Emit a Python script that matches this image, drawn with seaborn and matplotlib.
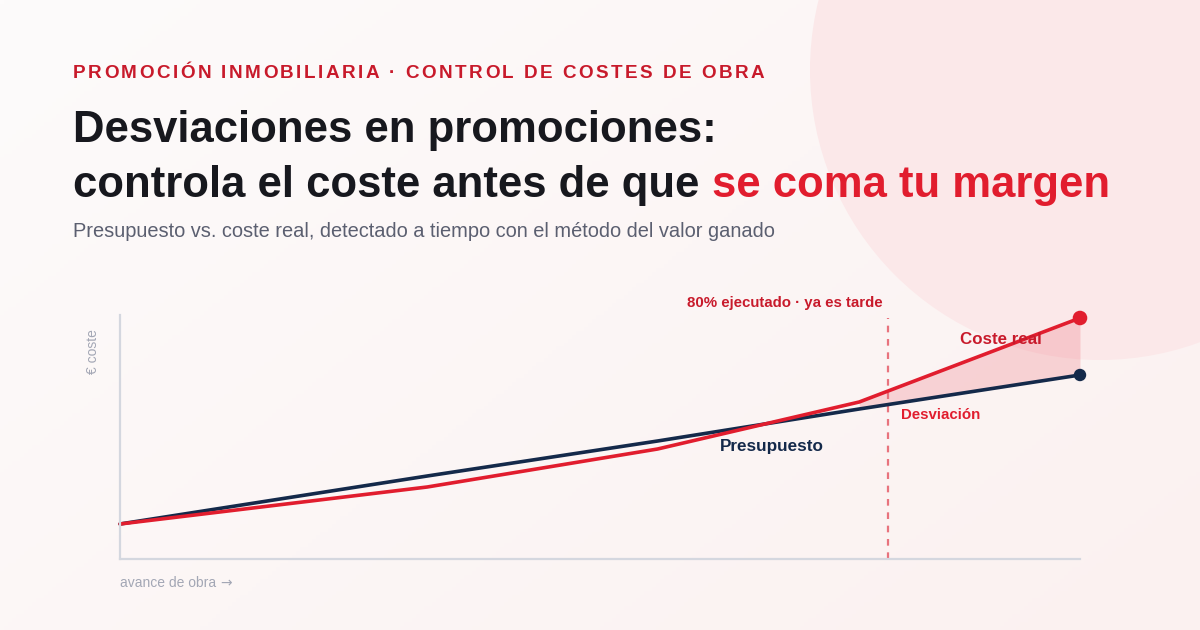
import numpy as np
import pandas as pd
import matplotlib
matplotlib.use("Agg")
import matplotlib.pyplot as plt
import seaborn as sns
from matplotlib.patches import Circle

# ---------------- data ----------------
avance = [0, 32, 56, 77, 100]                 # % de avance de obra
presupuesto = [35, 83, 118, 150, 184]          # coste presupuestado (índice)
coste_real = [35, 72, 110, 157, 241]           # coste real (índice)
hito_avance = 80                               # 80% ejecutado
series = ["Presupuesto", "Coste real"]

kicker = "PROMOCIÓN INMOBILIARIA · CONTROL DE COSTES DE OBRA"
title_1 = "Desviaciones en promociones:"
title_2a = "controla el coste antes de que "
title_2b = "se coma tu margen"
subtitle = "Presupuesto vs. coste real, detectado a tiempo con el método del valor ganado"

RED = "#e11d2e"
DARKRED = "#c81a2b"
NAVY = "#14294a"
INK = "#17181e"
GREY = "#5b5f70"
LIGHTGREY = "#a3a7b5"

sns.set_theme(style="white")
plt.rcParams['font.family'] = ['Liberation Sans', 'DejaVu Sans']

W, H = 1200, 630
fig = plt.figure(figsize=(12, 6.3), dpi=100)

# ---------------- background ----------------
bg = fig.add_axes([0, 0, 1, 1], zorder=-10)
xx, yy = np.meshgrid(np.linspace(0, 1, 300), np.linspace(0, 1, 160))
t = xx * 0.6 + yy * 0.4
c0 = np.array([253, 251, 251]) / 255
c1 = np.array([251, 241, 240]) / 255
img = c0 + (c1 - c0) * t[..., None]
bg.imshow(img, extent=[0, W, H, 0], aspect='auto', zorder=0)
bg.add_patch(Circle((1100, 70), 290, facecolor='#fbe8e9', lw=0, zorder=1))
bg.set_xlim(0, W)
bg.set_ylim(H, 0)
bg.axis('off')


def fx(px):
    return px / W


def fy(py):
    return 1 - py / H


renderer = fig.canvas.get_renderer()

# ---------------- header texts ----------------
# letter-spaced kicker
x = 73
for ch in kicker:
    tt = fig.text(fx(x), fy(78), ch, fontsize=13.6, fontweight='bold', color=DARKRED,
                  va='baseline', ha='left')
    bb = tt.get_window_extent(renderer)
    x += bb.width + 2.45

TS = 31.4
fig.text(fx(73), fy(142), title_1, fontsize=TS, fontweight='bold', color=INK,
         va='baseline', ha='left')
t2 = fig.text(fx(73), fy(197), title_2a, fontsize=TS, fontweight='bold', color=INK,
              va='baseline', ha='left')
bb = t2.get_window_extent(renderer)
fig.text(fx(73 + bb.width), fy(197), title_2b, fontsize=TS, fontweight='bold', color=RED,
         va='baseline', ha='left')

fig.text(fx(73), fy(237), subtitle, fontsize=14.4, color=GREY, va='baseline', ha='left')

# ---------------- chart ----------------
ax = fig.add_axes([120 / W, (H - 559) / H, 960 / W, 244 / H])
ax.patch.set_alpha(0)

df = pd.DataFrame({
    "avance": avance * 2,
    "valor": presupuesto + coste_real,
    "serie": [series[0]] * len(avance) + [series[1]] * len(avance),
})
sns.lineplot(data=df, x="avance", y="valor", hue="serie", hue_order=series,
             palette={series[0]: NAVY, series[1]: RED}, linewidth=2.6,
             legend=False, ax=ax, clip_on=False)

ends = pd.DataFrame({"avance": [avance[-1], avance[-1]],
                     "valor": [presupuesto[-1], coste_real[-1]],
                     "serie": series})
sns.scatterplot(data=ends, x="avance", y="valor", hue="serie", hue_order=series,
                palette={series[0]: NAVY, series[1]: RED}, size="serie",
                sizes={series[0]: 80, series[1]: 110}, linewidth=0,
                legend=False, ax=ax, clip_on=False, zorder=5)

ax.fill_between(avance[3:], presupuesto[3:], coste_real[3:], color='#ec5a66',
                alpha=0.22, lw=0, zorder=1)

ax.axvline(hito_avance, ymin=0, ymax=241 / 244, color='#e8737d', lw=1.6,
           ls=(0, (3, 3)), zorder=1)

ax.set_xlim(0, 100)
ax.set_ylim(0, 244)
ax.set_xticks([])
ax.set_yticks([])
ax.set_xlabel("")
ax.set_ylabel("")
for s in ["top", "right"]:
    ax.spines[s].set_visible(False)
for s in ["left", "bottom"]:
    ax.spines[s].set_color('#d4d7df')
    ax.spines[s].set_linewidth(1.6)

ax.text(79.4, 256, "80% ejecutado · ya es tarde", fontsize=10.85, fontweight='bold',
        color=DARKRED, ha='right', va='center', clip_on=False)
ax.text(91.8, 220, "Coste real", fontsize=12.2, fontweight='bold', color=DARKRED,
        ha='center', va='center', zorder=6)
ax.text(81.4, 144, "Desviación", fontsize=10.8, fontweight='bold', color=RED,
        ha='left', va='center')
ax.text(62.5, 112, "Presupuesto", fontsize=12.3, fontweight='bold', color=NAVY,
        ha='left', va='center')

fig.text(fx(93), fy(352), "€ coste", fontsize=10, color=LIGHTGREY, rotation=90,
         ha='center', va='center')
ta = fig.text(fx(120), fy(587), "avance de obra ", fontsize=10, color=LIGHTGREY,
              ha='left', va='baseline')
bb = ta.get_window_extent(renderer)
fig.text(fx(120 + bb.width), fy(587), "→", fontsize=10, color=LIGHTGREY,
         ha='left', va='baseline', family=['DejaVu Sans'])

fig.savefig("out.png", dpi=100)
